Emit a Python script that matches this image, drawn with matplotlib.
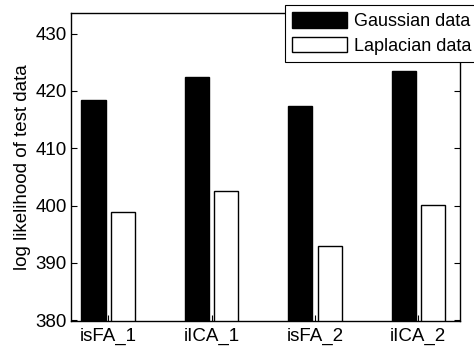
import matplotlib
matplotlib.use("Agg")
import matplotlib.pyplot as plt
import numpy as np

plt.rcParams['font.family'] = ['Liberation Sans', 'DejaVu Sans']

categories = ["isFA_1", "iICA_1", "isFA_2", "iICA_2"]
gaussian = [418.5, 422.5, 417.3, 423.5]
laplacian = [398.9, 402.6, 392.9, 400.1]
yticks = [380, 390, 400, 410, 420, 430]

W, H = 474, 351
fig = plt.figure(figsize=(W / 100, H / 100), dpi=100)
ax = fig.add_axes([71 / W, (H - 321) / H, 389 / W, 308 / H])

x = np.arange(1, len(categories) + 1)
bw = 0.235
off = 0.142
ax.bar(x - off, gaussian, width=bw, color='black', edgecolor='black', linewidth=1.0,
       label='Gaussian data')
ax.bar(x + off, laplacian, width=bw, color='white', edgecolor='black', linewidth=1.0,
       label='Laplacian data')

ax.set_xlim(0.639, 4.403)
ax.set_ylim(379.85, 433.6)
ax.set_xticks(x)
ax.set_xticklabels(categories)
ax.set_yticks(yticks)
ax.tick_params(direction='in', length=4, width=0.8, labelsize=13.5,
               top=False, right=True, pad=5)
ax.tick_params(axis='y', pad=3)
for s in ax.spines.values():
    s.set_linewidth(1.0)
ax.set_ylabel('log likelihood of test data', fontsize=13.5, labelpad=3)

leg = fig.legend(loc='upper left', bbox_to_anchor=(285 / W, 1 - 5 / H),
                 fontsize=13, frameon=True, fancybox=False, framealpha=1,
                 handlelength=3.05, handleheight=0.95, handletextpad=0.35,
                 borderpad=0.4, labelspacing=0.35, borderaxespad=0)
leg.get_frame().set_edgecolor('black')
leg.get_frame().set_linewidth(0.8)

fig.savefig('out.png', dpi=100)
